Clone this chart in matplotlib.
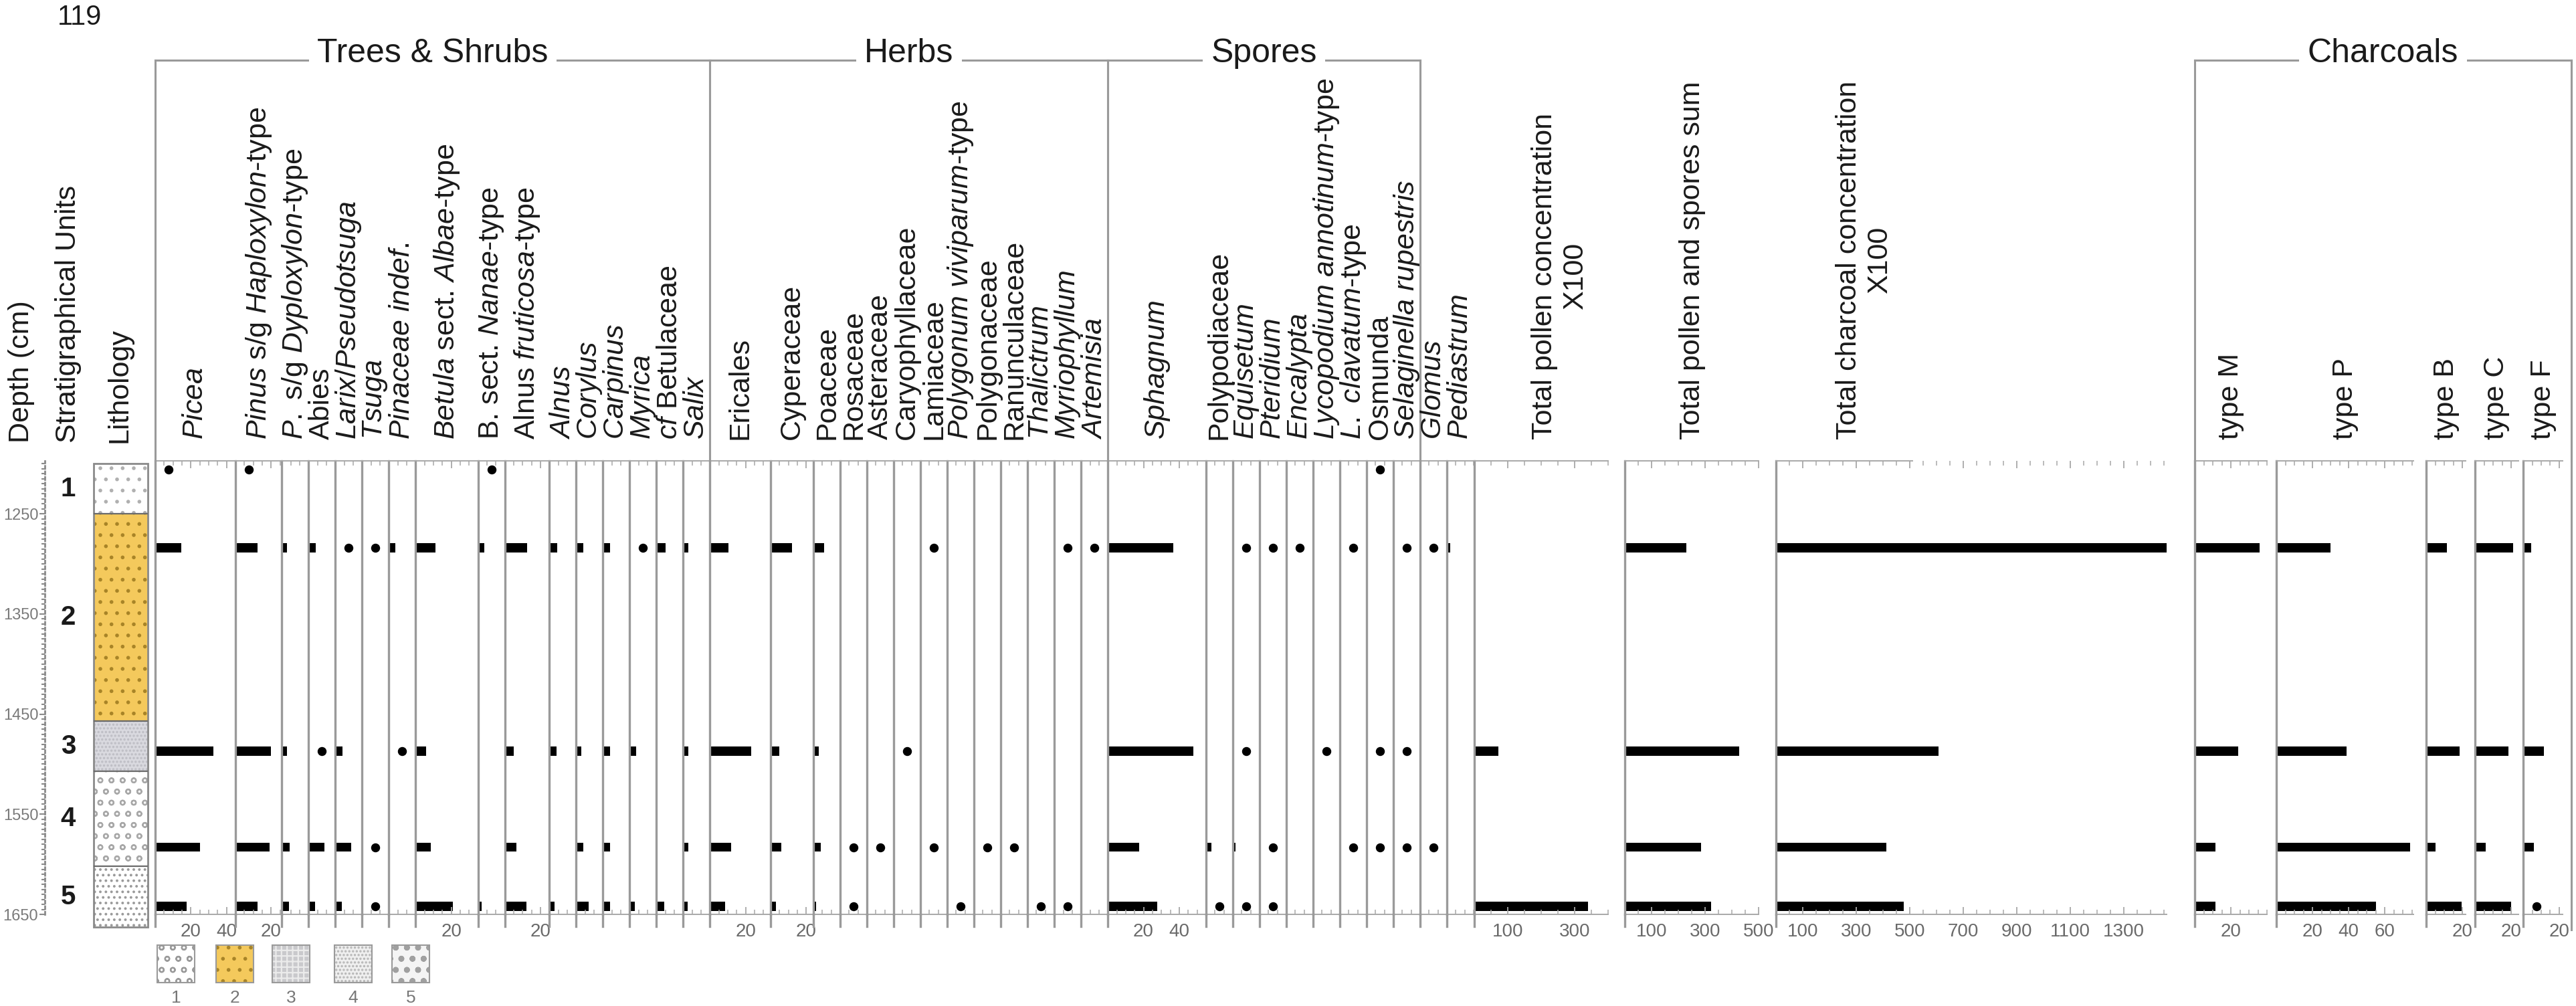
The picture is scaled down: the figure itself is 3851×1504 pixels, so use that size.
import matplotlib
matplotlib.use("Agg")
import matplotlib.pyplot as plt
from matplotlib.patches import Rectangle
from matplotlib.lines import Line2D
from matplotlib.ticker import FixedLocator, MultipleLocator
import matplotlib.transforms as mtransforms

plt.rcParams["font.family"] = ["Liberation Sans", "DejaVu Sans"]
plt.rcParams["mathtext.fontset"] = "custom"
plt.rcParams["mathtext.rm"] = "Liberation Sans"
plt.rcParams["mathtext.it"] = "Liberation Sans:italic"
plt.rcParams["hatch.linewidth"] = 1.6

# sample depths (cm); values < 1 are drawn as presence dots
depths = [1206, 1284, 1487, 1583, 1642]

# trees & shrubs (%)
picea = [0.5, 14.6, 32.6, 25, 17.5]
pinus_hap = [0.5, 12.5, 20, 19, 12.5]
pinus_dyp = [0, 3, 3, 4.5, 4]
abies = [0, 4, 0.5, 9, 3.5]
larix = [0, 0.5, 4, 9, 3.5]
tsuga = [0, 0.5, 0, 0.5, 0.5]
pinaceae = [0, 3.5, 0.5, 0, 0]
betula_albae = [0, 11, 6, 8.5, 21]
betula_nanae = [0.5, 3.5, 0, 0, 2]
alnus_frut = [0, 12.5, 5, 6.5, 12]
alnus = [0, 4.5, 4, 0, 3]
corylus = [0, 4, 3, 4, 7]
carpinus = [0, 4, 4, 4, 4]
myrica = [0, 0.5, 3.5, 0, 3]
cf_betulaceae = [0, 5, 0, 0, 4.5]
salix = [0, 3, 3, 3, 2.5]

# herbs (%)
ericales = [0, 10.5, 23, 12, 8.5]
cyperaceae = [0, 12, 5, 6, 3]
poaceae = [0, 6, 3, 4, 1.5]
rosaceae = [0, 0, 0, 0.5, 0.5]
asteraceae = [0, 0, 0, 0.5, 0]
caryophyllaceae = [0, 0, 0.5, 0, 0]
lamiaceae = [0, 0.5, 0, 0.5, 0]
polygonum_viv = [0, 0, 0, 0, 0.5]
polygonaceae = [0, 0, 0, 0.5, 0]
ranunculaceae = [0, 0, 0, 0.5, 0]
thalictrum = [0, 0, 0, 0, 0.5]
myriophyllum = [0, 0.5, 0, 0, 0.5]
artemisia = [0, 0.5, 0, 0, 0]

# spores (%)
sphagnum = [0, 36.5, 48, 17.5, 27.5]
polypodiaceae = [0, 0, 0, 3, 0.5]
equisetum = [0, 0.5, 0.5, 1.5, 0.5]
pteridium = [0, 0.5, 0, 0.5, 0.5]
encalypta = [0, 0.5, 0, 0, 0]
lyc_annotinum = [0, 0, 0.5, 0, 0]
lyc_clavatum = [0, 0.5, 0, 0.5, 0]
osmunda = [0.5, 0, 0.5, 0.5, 0]
selaginella = [0, 0.5, 0.5, 0.5, 0]
glomus = [0, 0.5, 0, 0.5, 0]
pediastrum = [0, 2, 0, 0, 0]

# concentrations
tot_pollen_conc = [0, 3, 72, 3, 340]
tot_pollen_sum = [5, 230, 428, 285, 322]
tot_charcoal_conc = [0, 1460, 608, 413, 478]

# charcoal types (%)
type_m = [0, 36, 24, 11.5, 11.5]
type_p = [0, 30, 39, 74, 55]
type_b = [0, 11.5, 18.5, 5, 19.5]
type_c = [0, 21, 18.5, 6, 20]
type_f = [0, 4.5, 11.5, 6, 0.5]

# lithology units
unit_names = ["1", "2", "3", "4", "5"]
unit_tops = [1200, 1250, 1457, 1507, 1602]
unit_bases = [1250, 1457, 1507, 1602, 1663]

trees = [
    (r"$\mathit{Picea}$", picea, 45, [20, 40]),
    (r"$\mathit{Pinus}$ s/g $\mathit{Haploxylon}$-type", pinus_hap, 26, [20]),
    (r"$\mathit{P.}$ s/g $\mathit{Dyploxylon}$-type", pinus_dyp, 15, []),
    ("Abies", abies, 15, []),
    (r"$\mathit{Larix/Pseudotsuga}$", larix, 15, []),
    (r"$\mathit{Tsuga}$", tsuga, 15, []),
    (r"$\mathit{Pinaceae\ indef.}$", pinaceae, 15, []),
    (r"$\mathit{Betula}$ sect. $\mathit{Albae}$-type", betula_albae, 35, [20]),
    (r"B. sect. $\mathit{Nanae}$-type", betula_nanae, 15, []),
    (r"Alnus $\mathit{fruticosa}$-type", alnus_frut, 25, [20]),
    (r"$\mathit{Alnus}$", alnus, 15, []),
    (r"$\mathit{Corylus}$", corylus, 15, []),
    (r"$\mathit{Carpinus}$", carpinus, 15, []),
    (r"$\mathit{Myrica}$", myrica, 15, []),
    (r"$\mathit{cf}$ Betulaceae", cf_betulaceae, 15, []),
    (r"$\mathit{Salix}$", salix, 15, []),
]
herbs = [
    ("Ericales", ericales, 34, [20]),
    ("Cyperaceae", cyperaceae, 24, [20]),
    ("Poaceae", poaceae, 15, []),
    ("Rosaceae", rosaceae, 15, []),
    ("Asteraceae", asteraceae, 15, []),
    ("Caryophyllaceae", caryophyllaceae, 15, []),
    ("Lamiaceae", lamiaceae, 15, []),
    (r"$\mathit{Polygonum\ viviparum}$-type", polygonum_viv, 15, []),
    ("Polygonaceae", polygonaceae, 15, []),
    ("Ranunculaceae", ranunculaceae, 15, []),
    (r"$\mathit{Thalictrum}$", thalictrum, 15, []),
    (r"$\mathit{Myriophyllum}$", myriophyllum, 15, []),
    (r"$\mathit{Artemisia}$", artemisia, 15, []),
]
spores = [
    (r"$\mathit{Sphagnum}$", sphagnum, 55, [20, 40]),
    ("Polypodiaceae", polypodiaceae, 15, []),
    (r"$\mathit{Equisetum}$", equisetum, 15, []),
    (r"$\mathit{Pteridium}$", pteridium, 15, []),
    (r"$\mathit{Encalypta}$", encalypta, 15, []),
    (r"$\mathit{Lycopodium\ annotinum}$-type", lyc_annotinum, 15, []),
    (r"$\mathit{L.\ clavatum}$-type", lyc_clavatum, 15, []),
    ("Osmunda", osmunda, 15, []),
    (r"$\mathit{Selaginella\ rupestris}$", selaginella, 15, []),
]
others = [
    (r"$\mathit{Glomus}$", glomus, 15, []),
    (r"$\mathit{Pediastrum}$", pediastrum, 15, []),
]
concs = [
    ("Total pollen concentration\nX100", tot_pollen_conc, 400, [100, 300]),
    ("Total pollen and spores sum", tot_pollen_sum, 500, [100, 300, 500]),
    ("Total charcoal concentration\nX100", tot_charcoal_conc, 1460,
     [100, 300, 500, 700, 900, 1100, 1300]),
]
charcoals = [
    ("type M", type_m, 40, [20]),
    ("type P", type_p, 76, [20, 40, 60]),
    ("type B", type_b, 22, [20]),
    ("type C", type_c, 24, [20]),
    ("type F", type_f, 22, [20]),
]

# ---- layout (pixels of the 3851 x 1504 canvas) ----
W, H = 3851, 1504
TOP, BOT = 689, 1367
YTOP, YBOT = 1197, 1650
SPINE = "#9a9a9a"
AXC = "#a8a8a8"
TICKC = "#6a6a6a"
LABEL_Y = 657

fig = plt.figure(figsize=(W / 100, H / 100), dpi=100)


def fxy(px, py):
    return px / W, 1 - py / H


def vline(x, y0, y1, lw=2.2):
    fig.add_artist(Line2D([x / W] * 2, [1 - y0 / H, 1 - y1 / H], color=SPINE, lw=lw))


def panel(left, pxu, label, vals, xmax, ticks, minor, label_x=None, top_end=None):
    w = xmax * pxu
    ax = fig.add_axes([left / W, 1 - BOT / H, w / W, (BOT - TOP) / H])
    ax.patch.set_alpha(0)
    ax.set_xlim(0, xmax)
    ax.set_ylim(YBOT, YTOP)
    ax.spines["right"].set_visible(False)
    ax.spines["left"].set_color(SPINE)
    ax.spines["left"].set_linewidth(2.4)
    for s in ("top", "bottom"):
        ax.spines[s].set_color(AXC)
        ax.spines[s].set_linewidth(1.4)
    if top_end is not None:
        ax.spines["top"].set_bounds(0, top_end)
    ax.set_yticks([])
    ax.xaxis.set_major_locator(FixedLocator(ticks))
    ax.xaxis.set_minor_locator(MultipleLocator(minor))
    ax.tick_params(axis="x", which="both", direction="in", top=True, bottom=True,
                   color=AXC, labelcolor=TICKC, labelsize=20, pad=9)
    ax.tick_params(axis="x", which="major", length=8, width=1.3)
    ax.tick_params(axis="x", which="minor", length=5, width=1.1)
    bd = [d for d, v in zip(depths, vals) if v >= 1]
    bv = [v for v in vals if v >= 1]
    dd = [d for d, v in zip(depths, vals) if 0 < v < 1]
    if bd:
        ax.barh(bd, bv, height=9, color="black", clip_on=False)
    if dd:
        ax.scatter([20 / pxu] * len(dd), dd, s=75, color="black", zorder=3, clip_on=False)
    cx = left + (w / 2 if label_x is None else label_x)
    fig.text(cx / W, 1 - LABEL_Y / H, label, rotation=90, ha="center", va="bottom",
             fontsize=31, color="#1a1a1a", multialignment="center")
    # spine runs a little below the bottom axis, as in the original
    vline(left, BOT, BOT + 18, lw=2.4)
    return ax


PX_PCT = 2.667
group_edges = []
x = 232
for group in (trees, herbs, spores, others):
    group_edges.append(x)
    for lab, vals, xmax, ticks in group:
        panel(x, PX_PCT, lab, vals, xmax, ticks, 5)
        x += xmax * PX_PCT
group_edges.append(x)

conc_left = [2204, 2429, 2655]
conc_pxu = [0.5, 0.4, 0.4]
conc_label_x = [128, 101, 132]
conc_top_end = [None, None, 510]
for (lab, vals, xmax, ticks), l, pu, lx, te in zip(concs, conc_left, conc_pxu,
                                                     conc_label_x, conc_top_end):
    panel(l, pu, lab, vals, xmax, ticks, 50, label_x=lx, top_end=te)

char_left = [3281, 3403, 3627, 3700, 3772]
for (lab, vals, xmax, ticks), l in zip(charcoals, char_left):
    panel(l, 2.7, lab, vals, xmax, ticks, 5)
CHAR_RIGHT = 3844
vline(CHAR_RIGHT, 90, 1390)

# group brackets
BRK_Y = 90
brackets = [("Trees & Shrubs", group_edges[0], group_edges[1]),
            ("Herbs", group_edges[1], group_edges[2]),
            ("Spores", group_edges[2], group_edges[3]),
            ("Charcoals", char_left[0], CHAR_RIGHT)]
for title, x0, x1 in brackets:
    fig.add_artist(Line2D([x0 / W, x1 / W], [1 - BRK_Y / H] * 2, color=SPINE, lw=2.2))
    vline(x0, BRK_Y, TOP)
    vline(x1, BRK_Y, TOP)
    fig.text((x0 + x1) / 2 / W, 1 - 80 / H, title, ha="center", va="center",
             fontsize=36, color="#1a1a1a",
             bbox=dict(facecolor="white", edgecolor="none", pad=9))

# depth axis
axd = fig.add_axes([67 / W, 1 - BOT / H, 0.0002, (BOT - TOP) / H])
axd.set_ylim(YBOT, YTOP)
axd.set_xticks([])
for s in ("top", "bottom", "right"):
    axd.spines[s].set_visible(False)
axd.spines["left"].set_color("#8a8a8a")
axd.spines["left"].set_linewidth(2)
axd.spines["left"].set_linestyle((0, (1.5, 1.5)))
axd.yaxis.set_major_locator(FixedLocator([1250, 1350, 1450, 1550, 1650]))
axd.yaxis.set_minor_locator(MultipleLocator(5))
axd.tick_params(axis="y", which="both", color="#8a8a8a", labelcolor="#7a7a7a",
                labelsize=17, pad=1)
axd.tick_params(axis="y", which="major", length=6, width=1.5)
axd.tick_params(axis="y", which="minor", length=3.5, width=1.5)

# lithology column
axl = fig.add_axes([140 / W, 1 - BOT / H, 81 / W, (BOT - TOP) / H])
axl.set_xlim(0, 1)
axl.set_ylim(YBOT, YTOP)
axl.axis("off")
unit_fill = ["white", "#f4c95c", "#d9d9df", "white", "white"]
unit_hatch = [".", ".", "...", "o", ".."]
unit_hcol = ["#b0b0b0", "#a88427", "#bdbdc4", "#a8a8a8", "#9a9a9a"]
for t, b, fc, h, hc in zip(unit_tops, unit_bases, unit_fill, unit_hatch, unit_hcol):
    axl.bar(0.5, b - t, bottom=t, width=1, color=fc, hatch=h, edgecolor=hc,
            linewidth=0, clip_on=False)
axl.hlines(unit_bases[:-1], 0, 1, color="#6a6a6a", lw=1.6, clip_on=False)
axl.add_patch(Rectangle((0, unit_tops[0]), 1, unit_bases[-1] - unit_tops[0], fill=False,
                        edgecolor="#8a8a8a", lw=2, clip_on=False))

tr = mtransforms.blended_transform_factory(fig.transFigure, axl.transData)
for name, t, b in zip(unit_names, unit_tops, unit_bases):
    axl.text(102 / W, (t + b) / 2, name, transform=tr, ha="center", va="center",
             fontsize=29, fontweight="bold", color="#1a1a1a")

# left headers
for lab, px in (("Depth (cm)", 32), ("Stratigraphical Units", 102), ("Lithology", 179)):
    fig.text(px / W, 1 - 662 / H, lab, rotation=90, ha="center", va="bottom",
             fontsize=31, color="#1a1a1a")

fig.text(*fxy(119, 26), "119", ha="center", va="center", fontsize=30, color="#1a1a1a")

# lithology legend
leg_x = [235, 323, 407, 500, 586]
leg_fill = ["white", "#f4c95c", "#c9c9cc", "#efefef", "#f4f4f4"]
leg_hatch = ["o", ".", "++", "...", "o."]
leg_hcol = ["#9a9a9a", "#a88427", "#ebebeb", "#b5b5b5", "#a0a0a0"]
for i, (lx, fc, h, hc) in enumerate(zip(leg_x, leg_fill, leg_hatch, leg_hcol)):
    fig.add_artist(Rectangle(fxy(lx, 1469), 56 / W, 56 / H, facecolor=fc, hatch=h,
                             edgecolor=hc, lw=0, transform=fig.transFigure))
    fig.add_artist(Rectangle(fxy(lx, 1469), 56 / W, 56 / H, fill=False,
                             edgecolor="#9a9a9a", lw=1.5, transform=fig.transFigure))
    fig.text(*fxy(lx + 28, 1492), unit_names[i], ha="center", va="center",
             fontsize=19, color="#777777")

fig.savefig("out.png", dpi=100)
